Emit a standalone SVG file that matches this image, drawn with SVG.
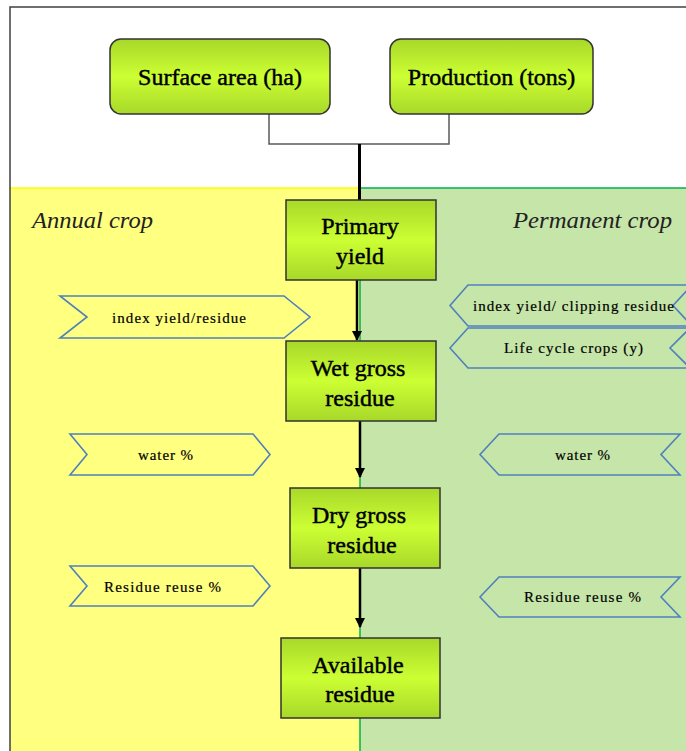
<svg xmlns="http://www.w3.org/2000/svg" width="686" height="751" viewBox="0 0 686 751">
<defs>
<linearGradient id="ng" x1="0" y1="0" x2="0" y2="1">
<stop offset="0" stop-color="#a8d82a"/>
<stop offset="0.5" stop-color="#ccff33"/>
<stop offset="1" stop-color="#a8d82a"/>
</linearGradient>
<marker id="ah" markerWidth="10" markerHeight="10" refX="9" refY="5" orient="auto" markerUnits="userSpaceOnUse">
<path d="M0,0 L10,5 L0,10 Z" fill="#000"/>
</marker>
<style>
text{font-family:'Liberation Serif','DejaVu Serif',serif}
.node{fill:url(#ng);stroke:#333;stroke-width:1.5}
.nt{font-size:24px;fill:#000;text-anchor:middle;stroke:#000;stroke-width:0.45}
.chev{fill:none;stroke:#4f81bd;stroke-width:1.6}
.ct{font-size:15px;fill:#000;stroke:#000;stroke-width:0.2}
.lab{font-size:24px;font-style:italic;fill:#222}
.arr{stroke:#000;stroke-width:2.5;fill:none;marker-end:url(#ah)}
</style>
</defs>
<rect x="0" y="0" width="686" height="751" fill="#fff"/>
<g id="background">
<rect x="10" y="188" width="350" height="563" fill="#ffff80"/>
<rect x="360" y="188" width="326" height="563" fill="#c6e5a8"/>
<line x1="10" y1="188" x2="360" y2="188" stroke="#ffff00" stroke-width="1.5"/>
<line x1="360" y1="188" x2="686" y2="188" stroke="#00b050" stroke-width="1.5"/>
<line x1="360" y1="188" x2="360" y2="751" stroke="#00b050" stroke-width="1.5"/>
<path d="M10,751 L10,7 L690,7" fill="none" stroke="#404040" stroke-width="1.5"/>
<text class="lab" x="32" y="228" textLength="121" lengthAdjust="spacingAndGlyphs">Annual crop</text>
<text class="lab" x="513" y="228" textLength="159" lengthAdjust="spacingAndGlyphs">Permanent crop</text>
</g>
<g id="connectors">
<path d="M269,114 L269,144 L449,144 L449,114" fill="none" stroke="#595959" stroke-width="1.5"/>
<line x1="359.5" y1="144" x2="359.5" y2="200" stroke="#000" stroke-width="3"/>
<line class="arr" x1="357" y1="280" x2="357" y2="340"/>
<line class="arr" x1="360" y1="421" x2="360" y2="477"/>
<line class="arr" x1="360" y1="568" x2="360" y2="627"/>
</g>
<g id="surface-area">
<rect class="node" x="110" y="39" width="220" height="75" rx="11"/>
<text class="nt" x="220" y="85">Surface area (ha)</text>
</g>
<g id="production">
<rect class="node" x="390" y="39" width="203" height="75" rx="11"/>
<text class="nt" x="491.5" y="85">Production (tons)</text>
</g>
<g id="primary-yield">
<rect class="node" x="286" y="200" width="150" height="80"/>
<text class="nt" x="360" y="234">Primary</text>
<text class="nt" x="360" y="264">yield</text>
</g>
<g id="wet-gross-residue">
<rect class="node" x="286" y="341" width="150" height="80"/>
<text class="nt" x="358" y="376">Wet gross</text>
<text class="nt" x="360" y="406">residue</text>
</g>
<g id="dry-gross-residue">
<rect class="node" x="290" y="488" width="150" height="80"/>
<text class="nt" x="359" y="523">Dry gross</text>
<text class="nt" x="362" y="553">residue</text>
</g>
<g id="available-residue">
<rect class="node" x="281" y="638" width="159" height="80"/>
<text class="nt" x="358" y="673">Available</text>
<text class="nt" x="360" y="702">residue</text>
</g>
<g id="annual-index">
<path class="chev" d="M60,296 L284,296 L310,317 L284,338 L60,338 L87,317 Z"/>
<text class="ct" x="112" y="323" textLength="134" lengthAdjust="spacing">index yield/residue</text>
</g>
<g id="annual-water">
<path class="chev" d="M70,434 L253,434 L270,454.5 L253,475 L70,475 L87,454.5 Z"/>
<text class="ct" x="138" y="460" textLength="55" lengthAdjust="spacing">water %</text>
</g>
<g id="annual-reuse">
<path class="chev" d="M70,566 L253,566 L270,586 L253,606 L70,606 L87,586 Z"/>
<text class="ct" x="104" y="592" textLength="117" lengthAdjust="spacing">Residue reuse %</text>
</g>
<g id="perm-index">
<path class="chev" d="M468,285 L692,285 L673,305.5 L692,326 L468,326 L450,305.5 Z"/>
<text class="ct" x="473" y="311" textLength="201" lengthAdjust="spacing">index yield/ clipping residue</text>
</g>
<g id="perm-life">
<path class="chev" d="M468,328 L690,328 L670,348 L690,368 L468,368 L450,348 Z"/>
<text class="ct" x="504" y="353" textLength="139" lengthAdjust="spacing">Life cycle crops (y)</text>
</g>
<g id="perm-water">
<path class="chev" d="M499,434 L680,434 L661,454.5 L680,475 L499,475 L480,454.5 Z"/>
<text class="ct" x="555" y="460" textLength="55" lengthAdjust="spacing">water %</text>
</g>
<g id="perm-reuse">
<path class="chev" d="M499,577 L680,577 L661,597 L680,617 L499,617 L480,597 Z"/>
<text class="ct" x="524" y="602" textLength="117" lengthAdjust="spacing">Residue reuse %</text>
</g>
</svg>
